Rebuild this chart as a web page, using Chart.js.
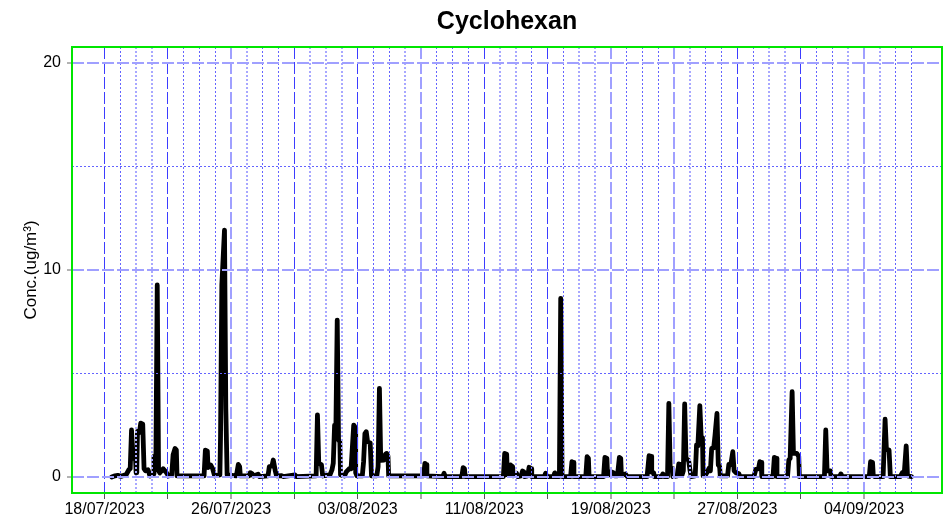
<!DOCTYPE html>
<html>
<head>
<meta charset="utf-8">
<script src="https://cdn.jsdelivr.net/npm/chart.js@4/dist/chart.umd.min.js"></script>
<style>
  body { margin: 0; background: #fff; }
</style>
</head>
<body>
<canvas id="conc-chart" width="943" height="518"></canvas>
<script>
// Cyclohexan measurements, hours counted from 18/07/2023 00:00 (UTC)
const seriesStart = Date.UTC(2023, 6, 18);
const hoursSinceStart = [
  11, 16, 20, 25, 33, 37, 39, 41, 43, 47, 48, 49, 50, 53, 55, 58, 60, 62, 66, 69,
  74, 75, 78, 80, 82, 84, 89, 93, 97,
  102, 104, 107, 109, 110,
  151, 153, 156, 157, 161, 164, 167,
  175, 176, 178, 182, 184, 186,
  200, 203, 205, 206,
  219, 221, 224, 226, 233, 235,
  248, 250, 254, 256, 259, 261,
  269, 271, 289, 291,
  321, 323, 325, 329, 331,
  342, 345, 347, 349, 351, 353, 355, 357, 358,
  364, 367, 372, 374, 378, 380, 381, 383,
  391, 393, 395, 397, 399, 403, 405,
  413, 415, 417, 419, 424, 426, 428, 430, 431,
  484, 486, 488, 489,
  513, 515, 517,
  542, 544, 546, 547,
  605, 607, 610, 611, 614, 616, 619, 620, 625, 627, 632, 634, 636, 637, 642, 644, 647, 648,
  667, 669, 671, 681, 683, 685,
  690, 692, 694,
  707, 709, 711, 712,
  730, 732, 734, 735,
  757, 759, 762, 763, 766, 768, 772, 774,
  778, 781, 783, 784, 786, 790, 793,
  823, 826, 829, 830, 833, 834,
  845, 847, 849,
  854, 856, 858, 861, 862,
  869, 871, 873, 874,
  876, 878, 880, 882, 886, 888, 890,
  896, 898, 900, 903, 905, 907, 908,
  911, 913, 917, 919, 921, 924, 926, 929, 931, 933, 934,
  945, 947, 950, 953, 955, 958, 962, 964,
  985, 988, 992, 994, 996, 997,
  1014, 1016, 1019, 1020,
  1036, 1038, 1040, 1043, 1045, 1050, 1053, 1054,
  1092, 1094, 1096, 1101, 1102,
  1115, 1117, 1119,
  1160, 1162, 1165, 1166, 1168,
  1181, 1184, 1186, 1190, 1192,
  1207, 1210, 1213, 1216, 1218, 1224
];
const concentration = [
  0, 0.06, 0.08, 0.03, 0.12, 0.35, 0.4, 2.27, 0.9, 0.9, 0.2, 0.3, 2.2, 2.15, 2.6, 2.55, 0.4, 0.3, 0.35, 0.05,
  0.15, 1.0, 1.0, 9.28, 0.3, 0.2, 0.4, 0.25, 0.05,
  0.1, 1.06, 1.38, 1.3, 0.05,
  0.05, 1.3, 1.25, 0.45, 0.58, 0.4, 0.05,
  0.1, 1.95, 9.28, 11.93, 3.3, 0.1,
  0.05, 0.61, 0.5, 0.05,
  0.05, 0.21, 0.15, 0.05, 0.14, 0.02,
  0.05, 0.5, 0.53, 0.82, 0.3, 0.05,
  0.06, 0.02, 0.1, 0.02,
  0.05, 3.0, 0.66, 0.6, 0.05,
  0.1, 0.34, 0.66, 2.51, 2.4, 7.58, 1.79, 1.7, 0.1,
  0.05, 0.26, 0.42, 0.4, 2.51, 2.4, 0.2, 0.05,
  0.05, 0.74, 2.1, 2.19, 1.71, 1.65, 0.05,
  0.05, 0.5, 4.28, 0.8, 0.82, 1.1, 1.14, 1.0, 0.05,
  0.05, 0.66, 0.6, 0.05,
  0.02, 0.18, 0.02,
  0.02, 0.45, 0.4, 0.02,
  0.02, 1.14, 1.1, 0.1, 0.1, 0.58, 0.5, 0.05, 0.18, 0.02, 0.05, 0.29, 0.25, 0.02, 0.05, 0.47, 0.4, 0.02,
  0.02, 0.18, 0.02, 0.02, 0.2, 0.02,
  0.02, 8.63, 0.02,
  0.02, 0.74, 0.7, 0.02,
  0.02, 0.98, 0.9, 0.02,
  0.02, 0.95, 0.9, 0.1, 0.1, 0.26, 0.21, 0.05,
  0.05, 0.95, 0.9, 0.1, 0.1, 0.15, 0.02,
  0.02, 1.03, 1.0, 0.23, 0.2, 0.02,
  0.02, 0.15, 0.02,
  0.02, 3.56, 0.47, 0.4, 0.02,
  0.05, 0.63, 0.6, 0.1,
  0.1, 0.3, 3.53, 0.9, 0.8, 0.34, 0.02,
  0.05, 1.55, 1.5, 3.45, 1.95, 1.9, 0.05,
  0.05, 0.17, 0.42, 0.3, 1.38, 1.4, 2.0, 3.07, 0.58, 0.5, 0.05,
  0.05, 0.61, 0.6, 1.22, 0.3, 0.2, 0.17, 0.02,
  0.02, 0.37, 0.4, 0.74, 0.7, 0.02,
  0.02, 0.95, 0.9, 0.02,
  0.02, 0.82, 0.9, 4.12, 1.14, 1.14, 1.0, 0.02,
  0.02, 2.27, 0.31, 0.3, 0.02,
  0.02, 0.15, 0.02,
  0.02, 0.74, 0.7, 0.1, 0.02,
  0.02, 2.79, 1.34, 1.3, 0.02,
  0.02, 0.2, 0.15, 1.5, 0.05, 0.02
];

// axis ticks: one grid line per day (18/07 .. 07/09), labels every 8 days
const gridDays = Array.from({ length: 52 }, (_, i) => i);
const labelEvery = 8;
const dashEvery = 4;
const yTicks = [0, 5, 10, 15, 20];
const yLabelEvery = 10;

const points = hoursSinceStart.map((h, i) => ({ x: h / 24, y: concentration[i] }));

function formatDay(day) {
  const d = new Date(seriesStart + day * 86400000);
  const dd = String(d.getUTCDate()).padStart(2, '0');
  const mm = String(d.getUTCMonth() + 1).padStart(2, '0');
  return dd + '/' + mm + '/' + d.getUTCFullYear();
}

// lines that fall between two pixels look soft and wide in the original
function isSoft(ctx) {
  const p = ctx.scale.getPixelForValue(ctx.tick.value);
  const f = p - Math.floor(p);
  return Math.abs(f - 0.5) > 0.3;
}

function gridStyle(isMajor) {
  return {
    color: ctx => {
      if (!ctx.tick) return '#ffffff';
      const soft = isSoft(ctx);
      if (isMajor(ctx.tick.value)) return soft ? '#a0a0ff' : '#3c3cff';
      return soft ? '#a8a8ff' : '#6464ff';
    },
    lineWidth: ctx => (ctx.tick && isSoft(ctx) ? 2 : 1)
  };
}

Chart.defaults.font.family = '"Liberation Sans", Arial, sans-serif';
Chart.defaults.color = '#000';

const plotFrame = {
  id: 'plotFrame',
  afterDraw(chart) {
    const { ctx, chartArea: a } = chart;
    ctx.save();
    ctx.strokeStyle = '#00e600';
    ctx.lineWidth = 2;
    ctx.strokeRect(a.left, a.top, a.right - a.left, a.bottom - a.top);
    ctx.restore();
  }
};

const xMajor = v => v % dashEvery === 0;
const yMajor = v => v % yLabelEvery === 0;
const xGrid = gridStyle(xMajor);
const yGrid = gridStyle(yMajor);

new Chart(document.getElementById('conc-chart'), {
  type: 'line',
  data: {
    datasets: [{
      data: points,
      borderColor: '#000',
      borderWidth: 4.8,
      borderJoinStyle: 'round',
      borderCapStyle: 'round',
      pointRadius: 0,
      tension: 0,
      fill: false
    }]
  },
  options: {
    responsive: false,
    animation: false,
    layout: { padding: { left: 0, right: 1, top: 0, bottom: 0 } },
    plugins: {
      legend: { display: false },
      tooltip: { enabled: false },
      title: {
        display: true,
        text: 'Cyclohexan',
        fullSize: false,
        font: { size: 25, weight: 'bold' },
        color: '#000',
        padding: { top: 7, bottom: 10 }
      }
    },
    scales: {
      x: {
        type: 'linear',
        min: -2.054,
        max: 52.93,
        afterBuildTicks: axis => { axis.ticks = gridDays.map(v => ({ value: v })); },
        afterFit: axis => { axis.height = 25; },
        ticks: {
          autoSkip: false,
          maxRotation: 0,
          minRotation: 0,
          padding: 1,
          font: { size: 16 },
          callback: v => (v % labelEvery === 0 ? formatDay(v) : '')
        },
        grid: {
          z: 1,
          color: xGrid.color,
          lineWidth: xGrid.lineWidth,
          tickLength: 6,
          tickWidth: 1,
          tickColor: ctx => (ctx.tick && xMajor(ctx.tick.value) ? '#555555' : '#ffffff')
        },
        border: {
          display: false,
          dash: ctx => (ctx.tick && xMajor(ctx.tick.value) ? [12, 3] : [2, 2])
        }
      },
      y: {
        type: 'linear',
        min: -0.773,
        max: 20.773,
        afterBuildTicks: axis => { axis.ticks = yTicks.map(v => ({ value: v })); },
        afterFit: axis => { axis.width = 72; },
        ticks: {
          autoSkip: false,
          padding: 6,
          font: { size: 16 },
          callback: v => (v % yLabelEvery === 0 ? String(v) : '')
        },
        grid: {
          z: 1,
          color: yGrid.color,
          lineWidth: yGrid.lineWidth,
          tickLength: 5,
          tickWidth: 1,
          tickColor: ctx => (ctx.tick && yMajor(ctx.tick.value) ? '#666666' : '#ffffff')
        },
        border: {
          display: false,
          dash: ctx => (ctx.tick && yMajor(ctx.tick.value) ? [12, 3] : [2, 2])
        },
        title: {
          display: true,
          text: 'Conc.(ug/m³)',
          font: { size: 17 },
          color: '#000',
          padding: { top: 21, bottom: 0 }
        }
      }
    }
  },
  plugins: [plotFrame]
});
</script>
</body>
</html>
